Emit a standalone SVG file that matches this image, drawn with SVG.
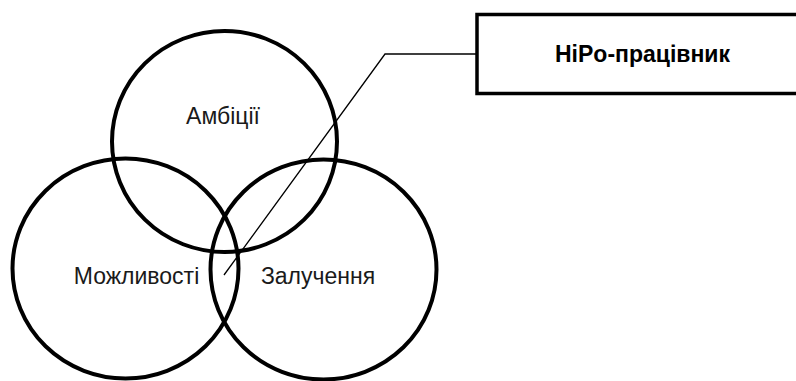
<svg xmlns="http://www.w3.org/2000/svg" width="796" height="381" viewBox="0 0 796 381">
  <style>
    .ring { fill: none; stroke: #000; stroke-width: 4; }
    .label { font-family: "Liberation Sans", Arial, sans-serif; font-size: 23px; fill: #1a1a1a; text-anchor: middle; }
    .title { font-family: "Liberation Sans", Arial, sans-serif; font-size: 23px; font-weight: bold; fill: #000; text-anchor: middle; }
    .leader { fill: none; stroke: #000; stroke-width: 1.3; }
    .box { fill: #fff; stroke: #000; stroke-width: 3.5; }
  </style>
  <rect width="796" height="381" fill="#fff"/>

  <g id="ambitions">
    <ellipse class="ring" cx="224.5" cy="141.5" rx="112.5" ry="110.5"/>
    <text class="label" x="223" y="124">Амбіції</text>
  </g>

  <g id="opportunities">
    <ellipse class="ring" cx="125.5" cy="268.5" rx="113" ry="110"/>
    <text class="label" x="136.5" y="284">Можливості</text>
  </g>

  <g id="engagement">
    <ellipse class="ring" cx="323.5" cy="269.5" rx="113" ry="110"/>
    <text class="label" x="318" y="284">Залучення</text>
  </g>

  <g id="connectors">
    <polyline class="leader" points="224,275 385,54 477,54"/>
  </g>

  <g id="hipo">
    <rect class="box" x="477" y="14.5" width="330" height="79"/>
    <text class="title" x="642.5" y="62">HiPo-працівник</text>
  </g>
</svg>
